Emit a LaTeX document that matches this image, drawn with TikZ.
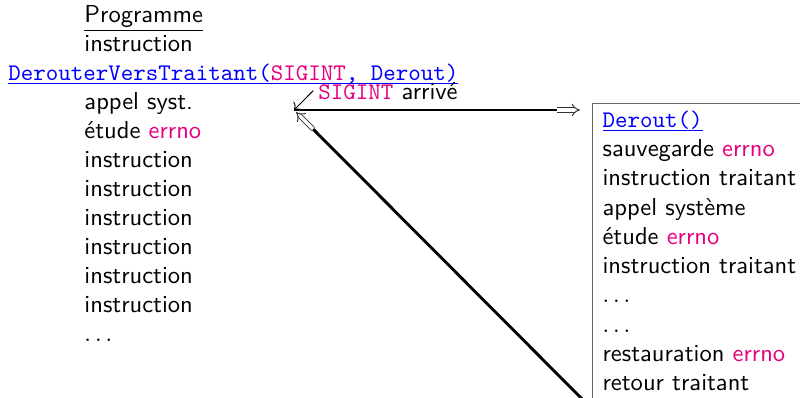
\documentclass[tikz,border=0pt]{standalone}
\usepackage{xcolor}
\usepackage{tikz}
\usetikzlibrary{arrows.meta,positioning,calc}
\definecolor{sigpink}{RGB}{230,0,126}
\definecolor{linkblue}{RGB}{0,0,255}
\newcommand{\code}[1]{{\fontsize{10}{12}\selectfont\ttfamily #1}}
\newcommand{\souligne}[1]{\setbox0\hbox{#1}\rlap{\rule[-1.5pt]{\wd0}{0.4pt}}\box0}
\newcommand{\lien}[1]{\textcolor{linkblue}{\souligne{\code{#1}}}}
\newcommand{\rouge}[1]{\textcolor{sigpink}{#1}}
\begin{document}
\begin{tikzpicture}[
    x=0.42pt,
    y=-0.42pt,
    >={To},
    txt/.style={font=\sffamily\fontsize{10.3}{12.3}\selectfont, anchor=base west, inner sep=0pt},
    sigline/.style={line width=1.2pt, black},
    implarrow/.style={double, double distance=1.4pt, line width=0.4pt, black!80,
                      -{Implies[length=3.5pt, width=6.5pt]}},
    pinarrow/.style={->, line width=0.4pt, black},
    codebox/.style={draw=black!60, line width=0.5pt, anchor=north west, align=left,
                    font=\sffamily\fontsize{10.3}{12.3}\selectfont,
                    inner xsep=4.2pt, inner ysep=3pt},
]
\useasboundingbox (0,0) rectangle (800,397);
\clip (0,0) rectangle (800,397);
\node[txt] (prog) at (84,22) {\underline{Programme}};
\node[txt] (instr0) at (84,51) {instruction};
\node[txt] (deroute) at (8,80)
  {\lien{DerouterVersTraitant(\textcolor{sigpink}{SIGINT}, Derout)}};
\node[txt] (appel) at (84,109) {appel syst.};
\node[txt] (etude) at (84,138) {étude \rouge{errno}};
\foreach \i in {1,...,6}{
  \node[txt] (instr\i) at (84,138+29*\i) {instruction};
}
\node[txt] (suite) at (84,341) {$\ldots$};
\node[codebox] (traitant) at (592,103)
  {\lien{Derout()}\\
   sauvegarde \rouge{errno}\\
   instruction traitant\\
   appel système\\
   étude \rouge{errno}\\
   instruction traitant\\
   $\ldots$\\
   $\ldots$\\
   restauration \rouge{errno}\\
   retour traitant};
\node[txt] (arrive) at (318,99) {\code{\rouge{SIGINT}} arrivé};
\coordinate (recu) at (294,110);
\coordinate (entree) at (580,110);
\coordinate (retour) at (296,112);
\coordinate (fin) at (612,429);
\draw[sigline] (recu) -- ($(entree)+(-23,0)$) coordinate (hstop);
\draw[implarrow] (hstop) -- (entree);
\draw[sigline] (fin) -- ($(retour)+(17,17)$) coordinate (dstop);
\draw[implarrow] (dstop) -- (retour);
\draw[pinarrow] ([xshift=-2]arrive.west) -- (recu);
\end{tikzpicture}
\end{document}
